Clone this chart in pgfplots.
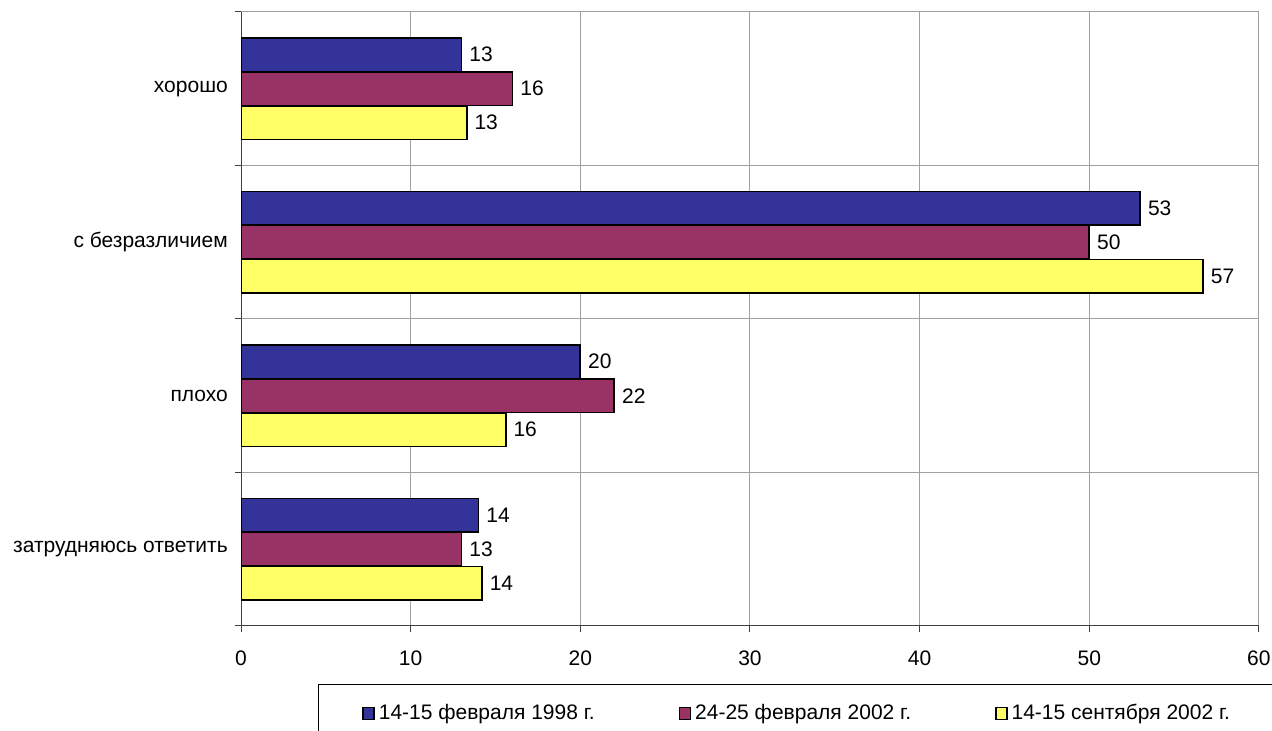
\documentclass[border=0pt]{standalone}
\usepackage{fontspec}
\setmainfont{Liberation Sans}
\usepackage{pgfplots}
\pgfplotsset{compat=1.18}
\definecolor{cblue}{HTML}{333399}
\definecolor{cmag}{HTML}{993366}
\definecolor{cyel}{HTML}{FFFF66}
\definecolor{cgrid}{HTML}{A0A0A0}
\begin{document}
\fontsize{21bp}{25bp}\selectfont
\begin{tikzpicture}
\useasboundingbox (0,0) rectangle (1272bp,731bp);
\begin{axis}[
  at={(241bp,105bp)}, anchor=south west,
  scale only axis, width=1018bp, height=614bp,
  xmin=0, xmax=60, ymin=-0.5, ymax=3.5,
  xtick={0,10,...,60},
  ytick={-0.5,0.5,1.5,2.5,3.5},
  y tick label as interval,
  yticklabels={затрудняюсь ответить, плохо, с безразличием, хорошо},
  grid=major, grid style={cgrid, line width=1bp},
  axis x line*=bottom, axis y line*=left,
  axis line style={black!75, line width=1bp, -},
  tick align=outside, major tick length=6bp,
  tick style={black!75, line width=1bp},
  font=\fontsize{21bp}{25bp}\selectfont,
  tick label style={font=\fontsize{21bp}{25bp}\selectfont},
  xticklabel style={yshift=-12bp},
  /pgf/number format/assume math mode=true,
  xbar, bar width=33.5bp,
  point meta=x,
  nodes near coords={\pgfmathprintnumber[fixed,precision=0,assume math mode=true]{\pgfplotspointmeta}},
  nodes near coords style={anchor=west, font=\fontsize{21bp}{25bp}\selectfont, black},
  every axis plot/.append style={draw=black, line width=1.8bp},
  legend columns=3,
  legend cell align=left,
  legend style={at={(0.0756,-0.0945)}, anchor=north west, draw=black, line width=1bp,
    font=\fontsize{21bp}{25bp}\selectfont, inner xsep=44bp, inner ysep=18bp,
    nodes={inner xsep=4bp},
    /tikz/every even column/.append style={column sep=80bp}},
  legend image code/.code={\draw[#1, line width=1.4bp] (0bp,-6bp) rectangle (11bp,6bp);},
]
\addplot[fill=cblue, bar shift=34bp] coordinates {(13,3) (53,2) (20,1) (14,0)};
\addlegendentry{14-15 февраля 1998 г.}
\addplot[fill=cmag, bar shift=0bp] coordinates {(16,3) (50,2) (22,1) (13,0)};
\addlegendentry{24-25 февраля 2002 г.}
\addplot[fill=cyel, bar shift=-34bp] coordinates {(13.3,3) (56.7,2) (15.6,1) (14.2,0)};
\addlegendentry{14-15 сентября 2002 г.}
\end{axis}
\end{tikzpicture}
\end{document}
